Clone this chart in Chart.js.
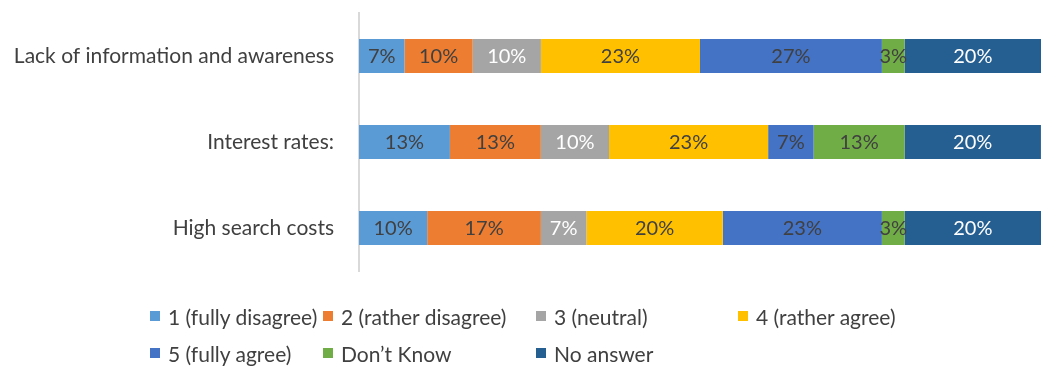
<!DOCTYPE html>
<html>
<head>
<meta charset="utf-8">
<script src="https://cdn.jsdelivr.net/npm/chart.js@4"></script>
<style>
  html, body { margin: 0; padding: 0; background: #fff; }
  #wrap { position: relative; width: 1041px; height: 367px; }
  #chart { position: absolute; left: 0; top: 0; }
  #legend {
    position: absolute; left: 150px; top: 302px;
    display: grid; grid-template-columns: 173px 213px 202px 240px;
    row-gap: 9px;
    font-family: Lato, "Open Sans", sans-serif; font-size: 21px; color: #404040;
  }
  #legend .item { display: flex; align-items: center; white-space: nowrap; height: 28px; }
  #legend .box { width: 10px; height: 10px; margin-right: 8px; flex: none; }
</style>
</head>
<body>
<div id="wrap">
  <canvas id="chart" width="1041" height="367"></canvas>
  <div id="legend"></div>
</div>
<script>
// Survey answers (n = 30), share of respondents in percent
const categories = ["Lack of information and awareness", "Interest rates:", "High search costs"];
const seriesNames = ["1 (fully disagree)", "2 (rather disagree)", "3 (neutral)", "4 (rather agree)",
                     "5 (fully agree)", "Don\u2019t Know", "No answer"];
const fullyDisagree  = [6.67, 13.33, 10.0];
const ratherDisagree = [10.0, 13.33, 16.67];
const neutral        = [10.0, 10.0, 6.67];
const ratherAgree    = [23.33, 23.33, 20.0];
const fullyAgree     = [26.67, 6.67, 23.33];
const dontKnow       = [3.33, 13.33, 3.33];
const noAnswer       = [20.0, 20.0, 20.0];

const seriesValues = [fullyDisagree, ratherDisagree, neutral, ratherAgree, fullyAgree, dontKnow, noAnswer];
const seriesColors = ["#5B9BD5", "#ED7D31", "#A5A5A5", "#FFC000", "#4472C4", "#70AD47", "#255E91"];
const labelColors  = ["#404040", "#404040", "#FFFFFF", "#404040", "#404040", "#404040", "#FFFFFF"];

const datasets = seriesNames.map((name, i) => ({
  label: name,
  data: seriesValues[i],
  backgroundColor: seriesColors[i],
  borderWidth: 0,
  barPercentage: 0.79,
  categoryPercentage: 0.5,
  labelColor: labelColors[i]
}));

// Percentage labels centred inside each segment
const segmentLabels = {
  id: "segmentLabels",
  afterDatasetsDraw(chart) {
    const ctx = chart.ctx;
    ctx.save();
    ctx.font = "20px Lato, 'Open Sans', sans-serif";
    ctx.textAlign = "center";
    ctx.textBaseline = "middle";
    chart.data.datasets.forEach((ds, di) => {
      const meta = chart.getDatasetMeta(di);
      meta.data.forEach((bar, i) => {
        const v = ds.data[i];
        if (!v) return;
        const cx = (bar.x + bar.base) / 2;
        ctx.fillStyle = ds.labelColor;
        ctx.fillText(Math.round(v) + "%", cx, bar.y + 1);
      });
    });
    ctx.restore();
  }
};

const chart = new Chart(document.getElementById("chart"), {
  type: "bar",
  data: { labels: categories, datasets },
  options: {
    indexAxis: "y",
    responsive: false,
    animation: false,
    layout: { padding: { top: 13, bottom: 96, left: 0, right: 0 } },
    plugins: { legend: { display: false }, tooltip: { enabled: false } },
    scales: {
      x: { stacked: true, min: 0, max: 100, display: false },
      y: {
        stacked: true,
        grid: { display: false, drawTicks: false },
        border: { display: true, color: "#D9D9D9", width: 2 },
        ticks: {
          color: "#404040",
          padding: 25,
          font: { family: "Lato, 'Open Sans', sans-serif", size: 21 }
        },
        afterFit(scale) {
          scale.width = 359;
          scale.paddingTop = 0;
          scale.paddingBottom = 0;
        }
      }
    }
  },
  plugins: [segmentLabels]
});

// Legend built from the chart's datasets
const legendEl = document.getElementById("legend");
chart.data.datasets.forEach(ds => {
  const item = document.createElement("div");
  item.className = "item";
  const box = document.createElement("span");
  box.className = "box";
  box.style.background = ds.backgroundColor;
  const txt = document.createElement("span");
  txt.textContent = ds.label;
  item.appendChild(box);
  item.appendChild(txt);
  legendEl.appendChild(item);
});
</script>
</body>
</html>
